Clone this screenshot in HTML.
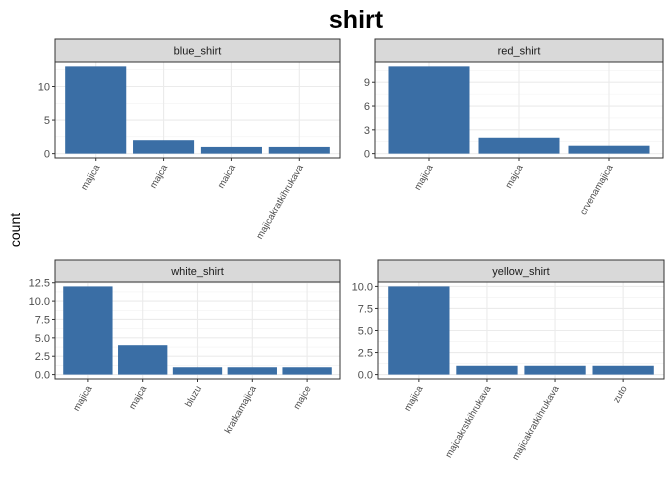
<!DOCTYPE html>
<html><head><meta charset="utf-8"><style>
body{margin:0;background:#fff;}
svg{font-family:"Liberation Sans",Arial,sans-serif;}
</style></head><body>
<svg id="chart" width="672" height="480">
<text x="356" y="28" text-anchor="middle" font-size="25" font-weight="bold" fill="#000">shirt</text>
<text transform="translate(20,230) rotate(-90)" text-anchor="middle" font-size="14" fill="#000">count</text>
</svg>
<script>
const panelNames = ["blue_shirt","red_shirt","white_shirt","yellow_shirt"];
const blueCats = ["majica","majca","maica","majicakratkihrukava"];
const blueVals = [13,2,1,1];
const redCats = ["majica","majca","crvenamajica"];
const redVals = [11,2,1];
const whiteCats = ["majica","majca","bluzu","kratkamajica","majce"];
const whiteVals = [12,4,1,1,1];
const yellowCats = ["majica","majcakrstkihrukava","majicakratkihrukava","zuto"];
const yellowVals = [10,1,1,1];
const blueTicks = [0,5,10];
const redTicks = [0,3,6,9];
const whiteTicks = [0,2.5,5,7.5,10,12.5];
const yellowTicks = [0,2.5,5,7.5,10];

const NS="http://www.w3.org/2000/svg";
const svg=document.getElementById('chart');
function mk(tag,attrs,parent){const e=document.createElementNS(NS,tag);for(const k in attrs)e.setAttribute(k,attrs[k]);(parent||svg).appendChild(e);return e;}

const layouts=[
 {x0:55,x1:340,s0:39,s1:62,p1:158},
 {x0:375,x1:663,s0:39,s1:62,p1:158},
 {x0:55,x1:340,s0:260,s1:282,p1:379},
 {x0:378,x1:664,s0:260,s1:282,p1:379}];
const cats=[blueCats,redCats,whiteCats,yellowCats];
const vals=[blueVals,redVals,whiteVals,yellowVals];
const ticks=[blueTicks,redTicks,whiteTicks,yellowTicks];
const decimals=[0,0,1,1];

for(let p=0;p<4;p++){
  const L=layouts[p],C=cats[p],V=vals[p],T=ticks[p];
  const g=mk('g',{});
  
  
  const vmax=Math.max(...V);
  const lo=-0.05*vmax,hi=vmax*1.05;
  const top=L.s1,bot=L.p1;
  const y=v=>bot-(v-lo)/(hi-lo)*(bot-top);
  const n=C.length,bw=(L.x1-L.x0)/(n+0.2);
  const x=i=>L.x0+bw*(0.6+i);
  for(let i=0;i<T.length;i++){
    const step=T.length>1?T[1]-T[0]:1;
    const m=T[i]+step/2;
    if(m<hi){const l=mk('line',{x1:L.x0,x2:L.x1,y1:y(m),y2:y(m),stroke:'#f2f2f2','stroke-width':0.6},g);
    }
  }
  T.forEach(t=>{
    const l=mk('line',{x1:L.x0,x2:L.x1,y1:y(t),y2:y(t),stroke:'#ebebeb','stroke-width':1.1},g);
    
    const tk=mk('line',{x1:L.x0-3,x2:L.x0,y1:y(t),y2:y(t),stroke:'#333','stroke-width':1},g);
    
    const tl=mk('text',{x:L.x0-5,y:y(t)+4,'text-anchor':'end','font-size':11,fill:'#4d4d4d'},g);
    tl.textContent=t.toFixed(decimals[p]);
    
  });
  C.forEach((c,i)=>{
    const l=mk('line',{x1:x(i),x2:x(i),y1:top,y2:bot,stroke:'#ebebeb','stroke-width':1.1},g);
    
  });
  C.forEach((c,i)=>{
    const r=mk('rect',{x:x(i)-bw*0.45,width:bw*0.9,y:y(V[i]),height:y(0)-y(V[i]),fill:'#3a6ea5'},g);
    
    const tk=mk('line',{x1:x(i),x2:x(i),y1:bot,y2:bot+3,stroke:'#333','stroke-width':1},g);
    
    const tl=mk('text',{transform:`translate(${x(i)+4},${bot+9}) rotate(-60)`,'text-anchor':'end','font-size':9.5,fill:'#4d4d4d'},g);
    tl.textContent=c;
    
  });
  const fr=mk('rect',{x:L.x0,y:top,width:L.x1-L.x0,height:bot-top,fill:'none',stroke:'#333','stroke-width':1},g);
  
  const st=mk('rect',{x:L.x0,y:L.s0,width:L.x1-L.x0,height:L.s1-L.s0,fill:'#d9d9d9',stroke:'#333','stroke-width':1},g);
  
  const sl=mk('text',{x:(L.x0+L.x1)/2,y:(L.s0+L.s1)/2+4,'text-anchor':'middle','font-size':11,fill:'#1a1a1a'},g);
  sl.textContent=panelNames[p];
  
}
</script>
</body></html>
